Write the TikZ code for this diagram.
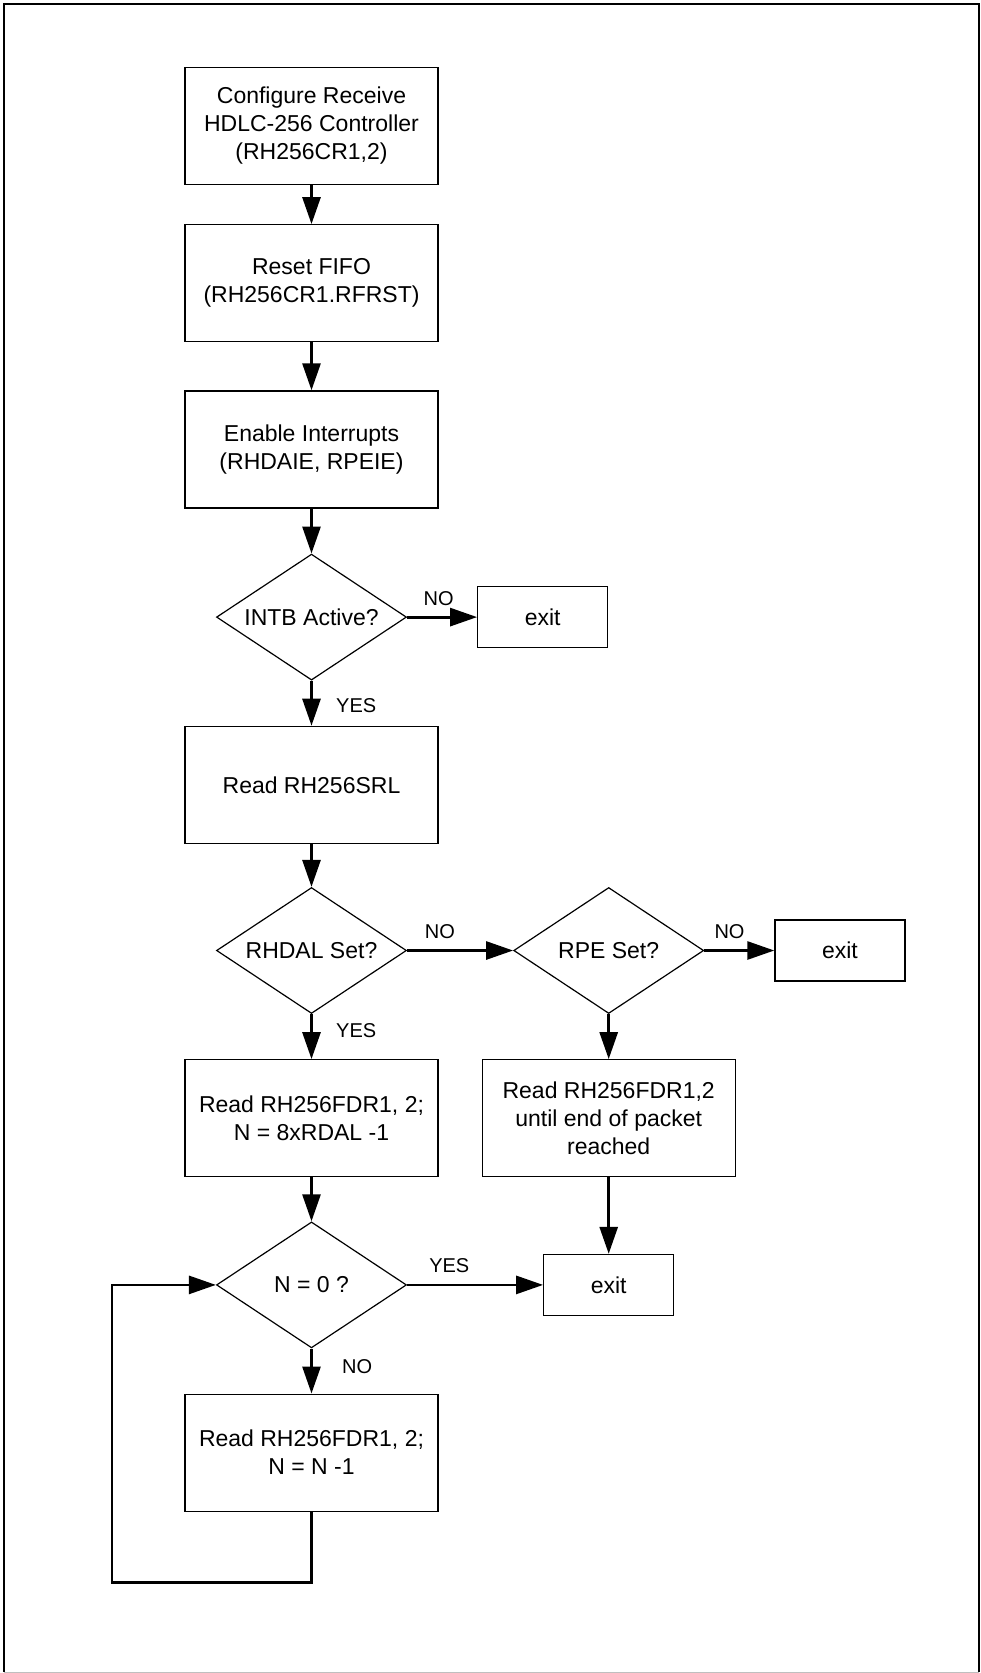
\documentclass[tikz,border=0pt]{standalone}
\usepackage{fontspec}
\setmainfont{Liberation Sans}
\usetikzlibrary{arrows.meta,positioning,shapes.geometric}

\begin{document}
\begin{tikzpicture}[x=1pt,y=1pt,>={Triangle[length=27pt,width=18pt]},
    font=\fontsize{23}{28}\selectfont,
    block/.style={draw,line width=1.2pt,minimum width=253pt,minimum height=117pt,align=center},
    decision/.style={diamond,draw,line width=1.2pt,minimum width=190pt,minimum height=126pt,aspect=1.5,inner sep=0pt,align=center},
    stopbox/.style={draw,line width=1.2pt,minimum width=130pt,minimum height=61pt},
    flow/.style={->,line width=2.8pt},
    lbl/.style={font=\fontsize{20}{24}\selectfont}]
    \useasboundingbox (0,0) rectangle (981,-1673);
    \draw[line width=2.5pt] (4,-1672) -- (4,-4) -- (979,-4) -- (979,-1672);
    \draw[gray!50,line width=0.8pt] (4,-1672) -- (979,-1672);

    \node[block] (cfg) at (311.5,-126) {Configure Receive\\HDLC-256 Controller\\(RH256CR1,2)};
    \node[block] (rst) [below=39pt of cfg] {Reset FIFO\\(RH256CR1.RFRST)};
    \node[block] (ena) [below=48pt of rst] {Enable Interrupts\\(RHDAIE, RPEIE)};
    \node[decision] (intb) [below=45pt of ena] {INTB Active?};
    \node[stopbox] (exitA) [right=70pt of intb] {exit};
    \node[block] (srl) [below=45pt of intb] {Read RH256SRL};
    \node[decision] (rhdal) [below=43pt of srl] {RHDAL Set?};
    \node[decision] (rpe) [right=106pt of rhdal] {RPE Set?};
    \node[stopbox] (exitB) [right=70pt of rpe] {exit};
    \node[block] (fdr) [below=45pt of rhdal] {Read RH256FDR1, 2;\\N = 8xRDAL -1};
    \node[block] (pkt) [below=45pt of rpe] {Read RH256FDR1,2\\until end of packet\\reached};
    \node[decision] (nzero) [below=44pt of fdr] {N = 0 ?};
    \node[stopbox] (exitC) [right=136pt of nzero] {exit};
    \node[block] (dec) [below=45pt of nzero] {Read RH256FDR1, 2;\\N = N -1};

    \path[flow]
    (cfg) edge (rst)
    (rst) edge (ena)
    (ena) edge (intb)
    (intb) edge node[lbl,pos=0.45,above=7pt] {NO} (exitA)
    (intb) edge node[lbl,pos=0.55,right=20pt] {YES} (srl)
    (srl) edge (rhdal)
    (rhdal) edge node[lbl,pos=0.31,above=7pt] {NO} (rpe)
    (rpe) edge node[lbl,pos=0.36,above=7pt] {NO} (exitB)
    (rhdal) edge node[lbl,pos=0.37,right=20pt] {YES} (fdr)
    (rpe) edge (pkt)
    (fdr) edge (nzero)
    (pkt) edge (exitC)
    (nzero) edge node[lbl,pos=0.31,above=7pt] {YES} (exitC)
    (nzero) edge node[lbl,pos=0.41,right=26pt] {NO} (dec)
    ;
    \draw[flow] (dec.south) -- ++(0,-71) -| ([xshift=-104pt]nzero.west) -- (nzero.west);
\end{tikzpicture}
\end{document}
